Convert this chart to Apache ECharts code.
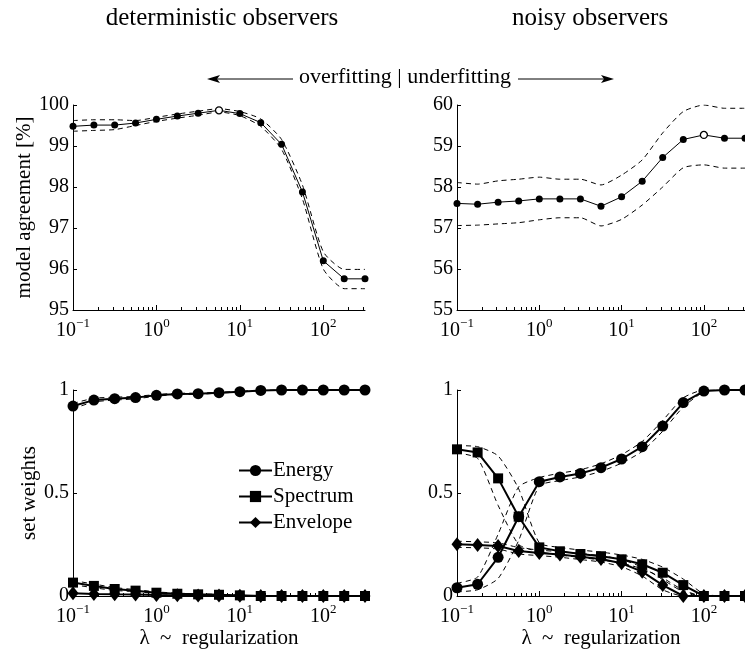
<!DOCTYPE html>
<html>
<head>
<meta charset="utf-8">
<script src="https://cdn.jsdelivr.net/npm/echarts@6/dist/echarts.min.js"></script>
<style>
html,body{margin:0;padding:0;background:#fff;}
#chart{width:745px;height:653px;}
</style>
</head>
<body>
<div id="chart"></div>
<script>
// ---- data ----
const lambda = [0.1, 0.178, 0.316, 0.562, 1, 1.78, 3.16, 5.62, 10, 17.8, 31.6, 56.2, 100, 178, 316];
const xTickValues = [0.1, 1, 10, 100];

const detAgree      = [99.48, 99.51, 99.51, 99.56, 99.65, 99.73, 99.80, 99.87, 99.79, 99.57, 99.04, 97.88, 96.20, 95.76, 95.76];
const detAgreeUpper = [99.62, 99.64, 99.64, 99.62, 99.70, 99.78, 99.85, 99.91, 99.84, 99.66, 99.16, 98.05, 96.42, 95.99, 95.99];
const detAgreeLower = [99.36, 99.38, 99.40, 99.50, 99.60, 99.68, 99.75, 99.83, 99.74, 99.48, 98.92, 97.71, 96.00, 95.52, 95.52];

const noisyAgree      = [57.60, 57.58, 57.63, 57.66, 57.71, 57.71, 57.71, 57.53, 57.76, 58.14, 58.72, 59.16, 59.27, 59.19, 59.19];
const noisyAgreeUpper = [58.11, 58.07, 58.15, 58.19, 58.24, 58.19, 58.19, 58.05, 58.29, 58.66, 59.32, 59.84, 60.00, 59.92, 59.92];
const noisyAgreeLower = [57.06, 57.07, 57.10, 57.13, 57.20, 57.25, 57.25, 57.05, 57.21, 57.56, 58.00, 58.47, 58.54, 58.46, 58.46];

const detEnergy        = [0.922, 0.951, 0.958, 0.963, 0.974, 0.981, 0.982, 0.987, 0.992, 0.998, 1, 1, 1, 1, 1];
const detEnergyUpper   = [0.935, 0.960, 0.965, 0.969, 0.978, 0.984, 0.985, 0.989, 0.994, 0.999, 1, 1, 1, 1, 1];
const detEnergyLower   = [0.909, 0.942, 0.951, 0.957, 0.970, 0.978, 0.979, 0.985, 0.990, 0.997, 1, 1, 1, 1, 1];
const detSpectrum      = [0.065, 0.049, 0.034, 0.026, 0.016, 0.011, 0.008, 0.006, 0.003, 0, 0, 0, 0, 0, 0];
const detSpectrumUpper = [0.075, 0.058, 0.041, 0.031, 0.020, 0.014, 0.010, 0.008, 0.004, 0, 0, 0, 0, 0, 0];
const detSpectrumLower = [0.055, 0.040, 0.027, 0.021, 0.012, 0.008, 0.006, 0.004, 0.002, 0, 0, 0, 0, 0, 0];
const detEnvelope      = [0.013, 0.010, 0.008, 0.007, 0.005, 0.004, 0.003, 0.002, 0.001, 0, 0, 0, 0, 0, 0];

const noisyEnergy        = [0.040, 0.057, 0.188, 0.385, 0.555, 0.578, 0.595, 0.623, 0.665, 0.725, 0.825, 0.939, 0.995, 1, 1];
const noisyEnergyUpper   = [0.062, 0.092, 0.300, 0.530, 0.575, 0.596, 0.613, 0.642, 0.686, 0.750, 0.852, 0.962, 1, 1, 1];
const noisyEnergyLower   = [0.020, 0.030, 0.085, 0.270, 0.535, 0.560, 0.578, 0.605, 0.645, 0.702, 0.800, 0.918, 0.990, 1, 1];
const noisySpectrum      = [0.712, 0.697, 0.571, 0.385, 0.236, 0.217, 0.204, 0.193, 0.178, 0.154, 0.113, 0.053, 0, 0, 0];
const noisySpectrumUpper = [0.730, 0.725, 0.680, 0.520, 0.258, 0.236, 0.223, 0.213, 0.199, 0.178, 0.140, 0.082, 0.010, 0, 0];
const noisySpectrumLower = [0.695, 0.668, 0.440, 0.250, 0.215, 0.199, 0.187, 0.175, 0.159, 0.132, 0.088, 0.028, 0, 0, 0];
const noisyEnvelope      = [0.251, 0.248, 0.243, 0.218, 0.209, 0.201, 0.191, 0.180, 0.159, 0.118, 0.053, 0, 0, 0, 0];
const noisyEnvelopeUpper = [0.266, 0.263, 0.258, 0.235, 0.223, 0.215, 0.206, 0.196, 0.177, 0.140, 0.080, 0.020, 0, 0, 0];
const noisyEnvelopeLower = [0.236, 0.234, 0.228, 0.204, 0.196, 0.188, 0.177, 0.165, 0.142, 0.097, 0.030, 0, 0, 0, 0];

// ---- styling ----
const FONT = 'Liberation Serif';
const FS = 20;
const chart = echarts.init(document.getElementById('chart'), null, {renderer: 'canvas'});

const gridDefs = [
  {left: 73, top: 105, width: 292, height: 205},
  {left: 457, top: 105, width: 292, height: 205},
  {left: 73, top: 390, width: 292, height: 206},
  {left: 457, top: 390, width: 292, height: 206}
];

const minorTicks = [];
[0.1, 1, 10, 100].forEach(d => { for (let m = 2; m <= 9; m++) { const v = d * m; if (v <= 316) minorTicks.push(+v.toPrecision(3)); } });

const supFormatter = v => {
  const e = Math.round(Math.log10(v));
  return '{b|10}{s|' + (e < 0 ? '\u2212' + (-e) : e) + '}';
};

const xAxes = [];
gridDefs.forEach((g, i) => {
  const isBottom = i >= 2;
  xAxes.push({
    type: 'log', logBase: 10, gridIndex: i, min: 0.1, max: 316, position: 'bottom',
    axisLine: {show: true, lineStyle: {color: '#000', width: 1}},
    axisTick: {show: true, inside: true, length: 5, customValues: xTickValues, lineStyle: {color: '#000'}},
    axisLabel: {show: true, customValues: xTickValues, margin: 7, formatter: supFormatter,
      rich: {
        b: {fontFamily: FONT, fontSize: FS, color: '#000', lineHeight: 28},
        s: {fontFamily: FONT, fontSize: 13, color: '#000', lineHeight: 13, verticalAlign: 'top'}
      }},
    splitLine: {show: false},
    name: isBottom ? 'λ  ~  regularization' : '',
    nameLocation: 'middle', nameGap: 24,
    nameTextStyle: {fontFamily: FONT, fontSize: 21, color: '#000'}
  });
});
gridDefs.forEach((g, i) => {
  xAxes.push({
    type: 'log', logBase: 10, gridIndex: i, min: 0.1, max: 316, position: 'bottom',
    axisLine: {show: false},
    axisTick: {show: true, inside: true, length: 3, customValues: minorTicks, lineStyle: {color: '#000'}},
    axisLabel: {show: false},
    splitLine: {show: false}
  });
});

const yAxes = [
  {min: 95, max: 100, interval: 1, name: 'model agreement [%]', nameGap: 38},
  {min: 55, max: 60, interval: 1, name: '', nameGap: 40},
  {min: 0, max: 1, interval: 0.5, name: 'set weights', nameGap: 31},
  {min: 0, max: 1, interval: 0.5, name: '', nameGap: 40}
].map((a, i) => ({
  type: 'value', gridIndex: i, min: a.min, max: a.max, interval: a.interval,
  axisLine: {show: true, lineStyle: {color: '#000', width: 1}},
  axisTick: {show: true, inside: true, length: 4, lineStyle: {color: '#000'}},
  axisLabel: {fontFamily: FONT, fontSize: FS, color: '#000', margin: 4},
  splitLine: {show: false},
  name: a.name, nameLocation: 'middle', nameGap: a.nameGap, nameRotate: 90,
  nameTextStyle: {fontFamily: FONT, fontSize: 21, color: '#000'}
}));

const pairs = arr => arr.map((v, i) => [lambda[i], v]);

function mainTop(name, gi, vals) {
  const best = vals.indexOf(Math.max(...vals));
  return {
    name, type: 'line', xAxisIndex: gi, yAxisIndex: gi, z: 5,
    data: vals.map((v, i) => i === best
      ? {value: [lambda[i], v], itemStyle: {color: '#fff', borderColor: '#000', borderWidth: 1.3}}
      : {value: [lambda[i], v]}),
    symbol: 'circle', symbolSize: 7, showSymbol: true,
    lineStyle: {color: '#000', width: 1},
    itemStyle: {color: '#000', borderColor: '#000', borderWidth: 0},
    animation: false
  };
}
function dashed(name, gi, vals) {
  return {
    name, type: 'line', xAxisIndex: gi, yAxisIndex: gi, z: 3,
    data: pairs(vals), symbol: 'none', smooth: 0.2,
    lineStyle: {color: '#000', width: 1, type: [5, 4]},
    animation: false
  };
}
const symMap = {Energy: ['circle', 11], Spectrum: ['rect', 10], Envelope: ['diamond', [11, 14]]};
function mainBottom(name, gi, vals) {
  return {
    name, type: 'line', xAxisIndex: gi, yAxisIndex: gi, z: 5,
    data: pairs(vals), symbol: symMap[name][0], symbolSize: symMap[name][1],
    lineStyle: {color: '#000', width: 2},
    itemStyle: {color: '#000', borderWidth: 0},
    animation: false
  };
}

const series = [
  mainBottom('Energy', 2, detEnergy),
  mainBottom('Spectrum', 2, detSpectrum),
  mainBottom('Envelope', 2, detEnvelope),
  dashed('detEU', 2, detEnergyUpper), dashed('detEL', 2, detEnergyLower),
  dashed('detSU', 2, detSpectrumUpper), dashed('detSL', 2, detSpectrumLower),
  mainTop('det', 0, detAgree),
  dashed('detU', 0, detAgreeUpper), dashed('detL', 0, detAgreeLower),
  mainTop('noisy', 1, noisyAgree),
  dashed('noisyU', 1, noisyAgreeUpper), dashed('noisyL', 1, noisyAgreeLower),
  mainBottom('Energy', 3, noisyEnergy),
  mainBottom('Spectrum', 3, noisySpectrum),
  mainBottom('Envelope', 3, noisyEnvelope),
  dashed('nEU', 3, noisyEnergyUpper), dashed('nEL', 3, noisyEnergyLower),
  dashed('nSU', 3, noisySpectrumUpper), dashed('nSL', 3, noisySpectrumLower),
  dashed('nVU', 3, noisyEnvelopeUpper), dashed('nVL', 3, noisyEnvelopeLower)
];

const arrowY = 79;
chart.setOption({
  backgroundColor: '#fff',
  animation: false,
  grid: gridDefs.map(g => Object.assign({containLabel: false}, g)),
  xAxis: xAxes,
  yAxis: yAxes,
  legend: {
    data: ['Energy', 'Spectrum', 'Envelope'],
    orient: 'vertical', left: 238, top: 460, padding: 0,
    itemWidth: 33, itemHeight: 14, itemGap: 5,
    selectedMode: false,
    textStyle: {fontFamily: FONT, fontSize: 21, color: '#000', padding: [0, 0, 0, -4]}
  },
  graphic: [
    {type: 'text', style: {text: 'deterministic observers', font: '25px "Liberation Serif"', fill: '#000', x: 222, y: 18, align: 'center', verticalAlign: 'middle'}},
    {type: 'text', style: {text: 'noisy observers', font: '25px "Liberation Serif"', fill: '#000', x: 590, y: 18, align: 'center', verticalAlign: 'middle'}},
    {type: 'text', style: {text: 'overfitting | underfitting', font: '22px "Liberation Serif"', fill: '#000', x: 405, y: 77, align: 'center', verticalAlign: 'middle'}},
    {type: 'line', shape: {x1: 212, y1: arrowY, x2: 293, y2: arrowY}, style: {stroke: '#000', lineWidth: 1}},
    {type: 'polygon', shape: {points: [[207, arrowY], [220, arrowY - 4], [217, arrowY], [220, arrowY + 4]]}, style: {fill: '#000'}},
    {type: 'line', shape: {x1: 518, y1: arrowY, x2: 609, y2: arrowY}, style: {stroke: '#000', lineWidth: 1}},
    {type: 'polygon', shape: {points: [[614, arrowY], [601, arrowY - 4], [604, arrowY], [601, arrowY + 4]]}, style: {fill: '#000'}}
  ],
  series
});
</script>
</body>
</html>
